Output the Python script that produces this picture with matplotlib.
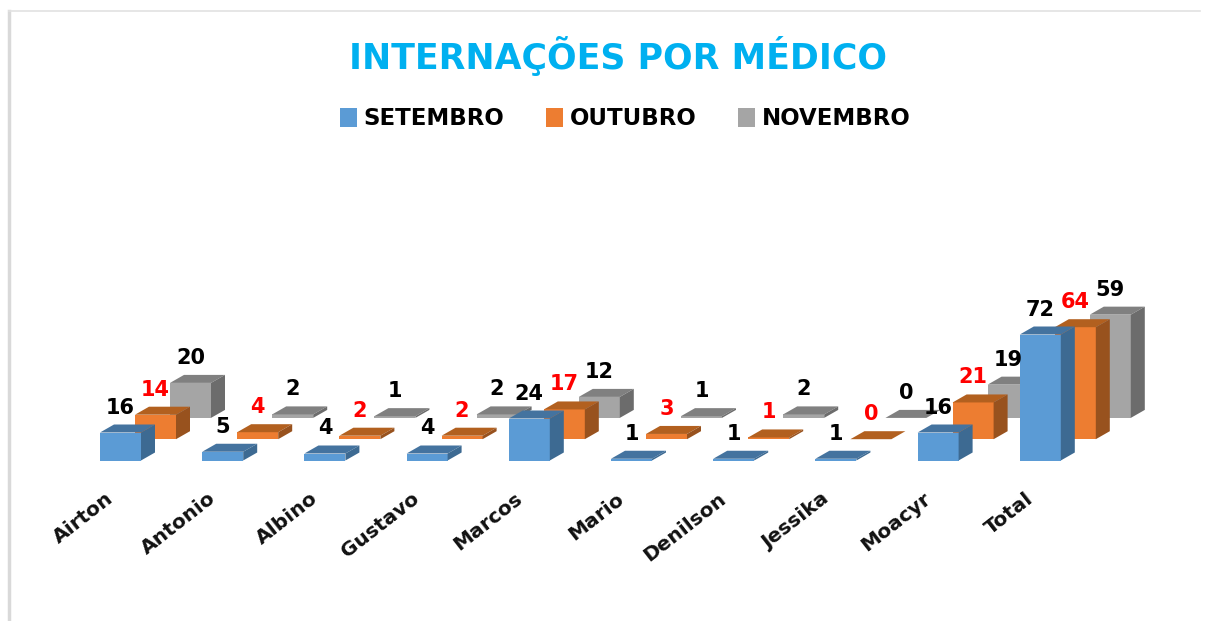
# Internacoes por medico - 3D looking column chart drawn on a pixel canvas
import matplotlib
matplotlib.use('Agg')
import matplotlib.pyplot as plt
from matplotlib.patches import Patch, Polygon

plt.rcParams['font.family'] = ['DejaVu Sans']

medicos = ['Airton','Antonio','Albino','Gustavo','Marcos','Mario','Denilson','Jessika','Moacyr','Total']
setembro = [16,5,4,4,24,1,1,1,16,72]
outubro = [14,4,2,2,17,3,1,0,21,64]
novembro = [20,2,1,2,12,1,2,0,19,59]

# (name, values, front, top, side, label colour)
series = [('SETEMBRO',setembro,'#5b9bd5','#44739f','#3d6a92','black'),
          ('OUTUBRO',outubro,'#ed7d31','#b2601f','#98521e','red'),
          ('NOVEMBRO',novembro,'#a5a5a5','#808080','#6c6c6c','black')]

# projection settings, all in image pixels
x0,base = 100.0,460.5
cat_step = 102.2
ser_dx,ser_dy = 35.0,-21.3
bar_w = 41.0
dep_x,dep_y = 14.0,-8.0
unit = 1.75

fig = plt.figure(figsize=(12.15,6.21),dpi=100)
ax = fig.add_axes([0,0,1,1])
ax.set_xlim(0,1215)
ax.set_ylim(621,0)
ax.axis('off')

# frame of the pasted chart
ax.plot([9,9],[11,621],color='#d9d9d9',linewidth=2.5)
ax.plot([9,1200],[11,11],color='#e2e2e2',linewidth=1.2)

def draw_bar(xl,yb,val,front,top,side):
    xr = xl+bar_w
    yt = yb-val*unit
    ax.add_patch(Polygon([(xl,yb),(xr,yb),(xr,yt),(xl,yt)],facecolor=front,edgecolor='none'))
    ax.add_patch(Polygon([(xl,yt),(xr,yt),(xr+dep_x,yt+dep_y),(xl+dep_x,yt+dep_y)],facecolor=top,edgecolor='none'))
    ax.add_patch(Polygon([(xr,yb),(xr+dep_x,yb+dep_y),(xr+dep_x,yt+dep_y),(xr,yt)],facecolor=side,edgecolor='none'))

# back series first so the front ones cover them
for ss in [2,1,0]:
    name,vals,front,top,side,lab_col = series[ss]
    for ii,val in enumerate(vals):
        xl = x0+ii*cat_step+ss*ser_dx
        yb = base+ss*ser_dy
        draw_bar(xl,yb,val,front,top,side)

# data labels go on top of every bar
for ss in [2,1,0]:
    name,vals,front,top,side,lab_col = series[ss]
    for ii,val in enumerate(vals):
        xl = x0+ii*cat_step+ss*ser_dx
        yb = base+ss*ser_dy
        ax.text(xl+bar_w/2,yb-val*unit-25,str(val),color=lab_col,fontsize=15,fontweight='bold',
                ha='center',va='center')

for ii,med in enumerate(medicos):
    ax.text(x0+ii*cat_step+5,489,med,rotation=38,rotation_mode='anchor',ha='right',va='top',
            fontsize=14.5,fontweight='bold',color='#111111')

ax.text(618,56,'INTERNAÇÕES POR MÉDICO',color='#00b0f0',fontsize=25,fontweight='bold',
        ha='center',va='center')

handles = [Patch(facecolor=s[2],label=s[0]) for s in series]
ax.legend(handles=handles,ncols=3,loc='center',bbox_to_anchor=(625/1215,1-119/621),frameon=False,
          prop={'size':16.5,'weight':'bold'},handlelength=0.75,handleheight=0.9,handletextpad=0.3,
          columnspacing=1.8)

plt.savefig('out.png',dpi=100)
